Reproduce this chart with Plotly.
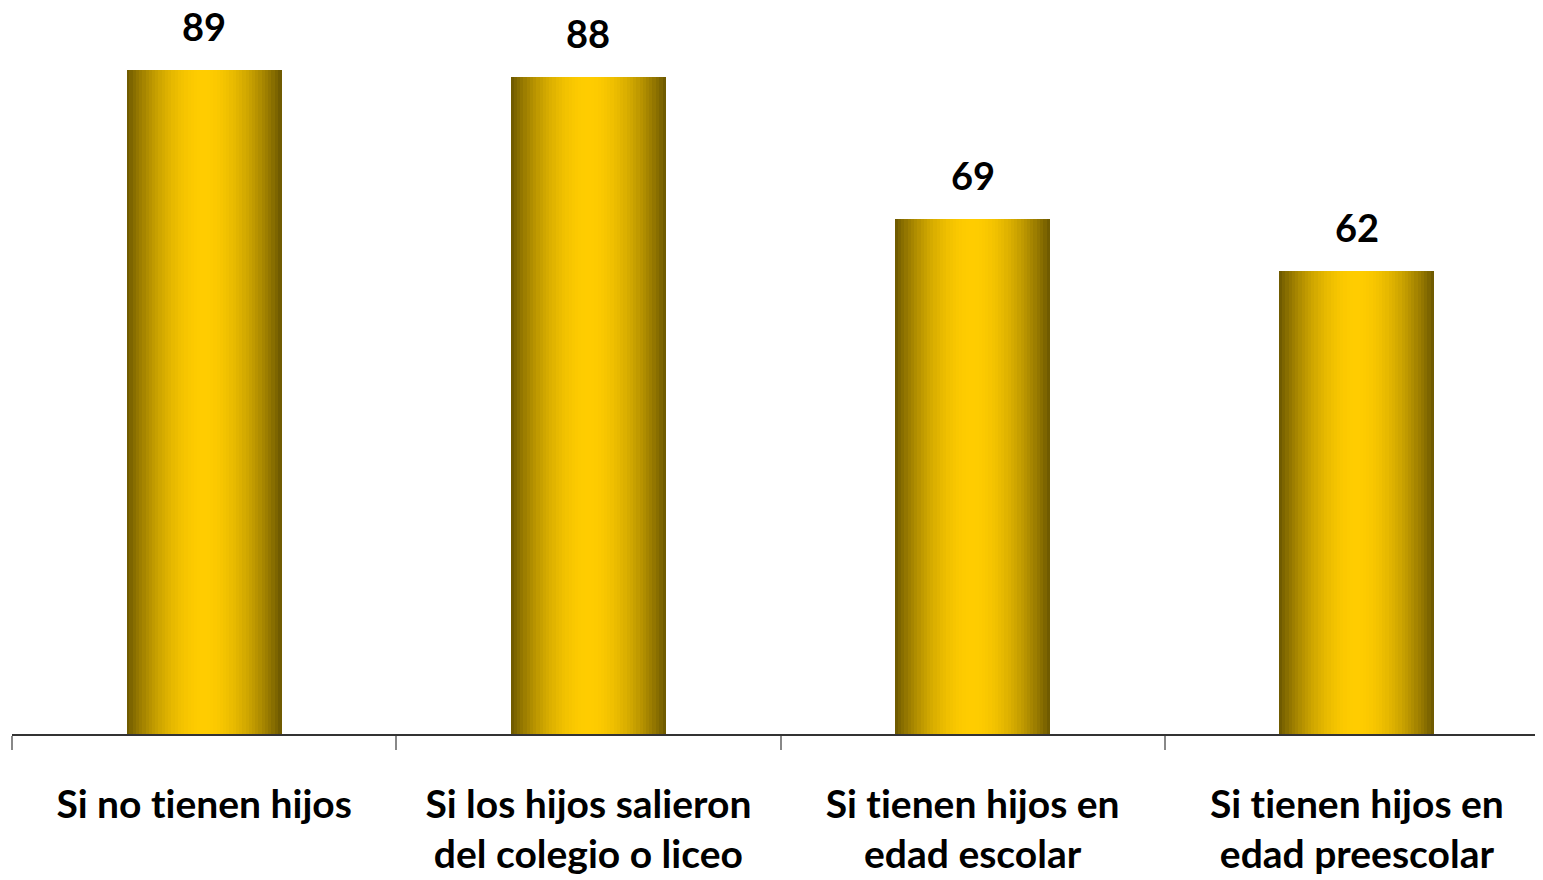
import plotly.graph_objects as go
import numpy as np

ZW = "\u200c"  # zero-width non-joiner to avoid the "ti" ligature
categories = [
    "Si no tienen hijos",
    "Si los hijos salieron<br>del colegio o liceo",
    "Si tienen hijos en<br>edad escolar",
    "Si tienen hijos en<br>edad preescolar",
]
values = [89, 88, 69, 62]

display = [c.replace("ti", "t" + ZW + "i") for c in categories]

FONT = "Lato"
BAR_W = 0.403
N = 48
dark = np.array([104, 84, 0])
yellow = np.array([255, 204, 0])

fig = go.Figure()
w = BAR_W / N
for i in range(N):
    t = (i + 0.5) / N
    f = np.sin(np.pi * t) ** 0.85
    c = dark + (yellow - dark) * f
    col = "rgb(%d,%d,%d)" % tuple(c.round().astype(int))
    if i == 0:
        off, wid = -BAR_W / 2, w * 1.3
    elif i == N - 1:
        off, wid = -BAR_W / 2 + i * w, w
    else:
        off, wid = -BAR_W / 2 + i * w - w * 0.15, w * 1.3
    fig.add_trace(go.Bar(
        x=display, y=values, width=wid, offset=off,
        marker=dict(color=col, line=dict(width=0)),
        showlegend=False, hoverinfo="skip",
    ))

for cat, v in zip(display, values):
    fig.add_annotation(
        x=cat, y=v, text=str(v), showarrow=False, yanchor="bottom", yshift=19,
        font=dict(family=FONT, size=38, color="black", weight="bold"),
    )

# page body has an 8px margin; size the figure so the plot sits where the reference has it
fig.update_layout(
    width=1541, height=872,
    margin=dict(l=4, r=0, t=0, b=146),
    barmode="overlay",
    bargap=0,
    plot_bgcolor="white", paper_bgcolor="white",
    font=dict(family=FONT, size=39, color="black", weight="bold"),
)
fig.update_xaxes(
    type="category", showline=True, linecolor="#333333", linewidth=1.5,
    ticks="outside", tickson="boundaries", ticklen=14, tickcolor="#888888", tickwidth=1.5,
    showgrid=False, tickfont=dict(family=FONT, size=39, color="black", weight="bold"),
    ticklabelstandoff=35, automargin=False,
)
fig.update_yaxes(range=[0, 97.3], visible=False, showgrid=False, zeroline=False, automargin=False)

fig.write_html("out.html")
